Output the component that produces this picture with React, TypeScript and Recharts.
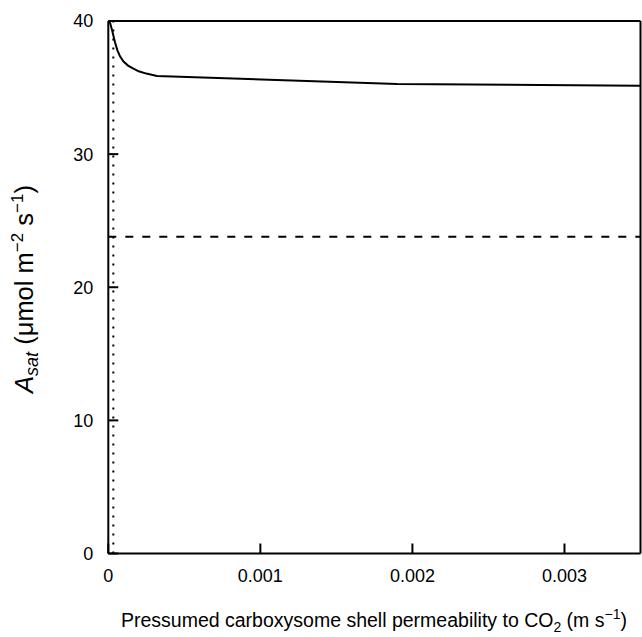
import { LineChart, Line, XAxis, YAxis, ReferenceLine, Label } from "recharts";

// shell permeability to CO2 (m s-1) vs. A_sat (umol m-2 s-1)
const permeability = [
  0, 0.000012, 0.000025, 0.000044, 0.00006, 0.000077, 0.0001, 0.00013, 0.000165, 0.0002, 0.00025,
  0.00032, 0.0019, 0.0035,
];
const assimilation = [
  40, 39.85, 39.3, 38.4, 37.8, 37.35, 36.95, 36.65, 36.42, 36.22, 36.05, 35.87, 35.27, 35.13,
];

const xTicks = [0, 0.001, 0.002, 0.003];
const yTicks = [0, 10, 20, 30, 40];

const dashedLevel = 23.8;
const dottedPermeability = 0.000033;

const data = permeability.map((p, i) => ({ p, a: assimilation[i] }));

const font = '"Liberation Sans", Arial, Helvetica, sans-serif';
const tickStyle = { fill: "#000", fontSize: 18, fontFamily: font };

export default function App() {
  return (
    <div style={{ position: "absolute", left: 0, top: 0, background: "#fff" }}>
      <LineChart
        width={642}
        height={637}
        data={data}
        margin={{ top: 20, right: 0.5, bottom: 53.5, left: 48.3 }}
      >
        <XAxis
          xAxisId="b"
          dataKey="p"
          type="number"
          domain={[0, 0.0035]}
          ticks={xTicks}
          allowDataOverflow
          height={30}
          stroke="#000"
          strokeWidth={2}
          tickSize={-10}
          tickMargin={26}
          tick={tickStyle}
          tickFormatter={(v: number) => (v === 0 ? "0" : v.toFixed(3))}
        >
          <Label
            content={() => (
              <text x={374} y={627} textAnchor="middle" fontFamily={font} fontSize={19.5} fill="#000">
                Pressumed carboxysome shell permeability to CO
                <tspan dy={5} fontSize={14}>2</tspan>
                <tspan dy={-5}> (m s</tspan>
                <tspan dy={-8} fontSize={14}>−1</tspan>
                <tspan dy={8}>)</tspan>
              </text>
            )}
          />
        </XAxis>
        <XAxis
          xAxisId="t"
          dataKey="p"
          type="number"
          orientation="top"
          domain={[0, 0.0035]}
          ticks={xTicks}
          allowDataOverflow
          height={1}
          stroke="#000"
          strokeWidth={2}
          tickSize={-10}
          tick={false}
        />
        <YAxis
          yAxisId="l"
          type="number"
          domain={[0, 40]}
          ticks={yTicks}
          width={60}
          stroke="#000"
          strokeWidth={2}
          tickSize={-10}
          tickMargin={25}
          tick={tickStyle}
        >
          <Label
            content={() => (
              <text
                x={33}
                y={289}
                transform="rotate(-90 33 289)"
                textAnchor="middle"
                fontFamily={font}
                fontSize={25.5}
                fill="#000"
              >
                <tspan fontStyle="italic">A</tspan>
                <tspan fontStyle="italic" fontSize={18} dy={5}>sat</tspan>
                <tspan dy={-5}> (μmol m</tspan>
                <tspan fontSize={17} dy={-10}>−2</tspan>
                <tspan dy={10}> s</tspan>
                <tspan fontSize={17} dy={-10}>−1</tspan>
                <tspan dy={10}>)</tspan>
              </text>
            )}
          />
        </YAxis>
        <YAxis
          yAxisId="r"
          type="number"
          orientation="right"
          domain={[0, 40]}
          ticks={yTicks}
          width={1}
          stroke="#000"
          strokeWidth={2}
          tickSize={-10}
          tick={false}
        />
        <ReferenceLine
          xAxisId="b"
          yAxisId="l"
          y={dashedLevel}
          stroke="#000"
          strokeWidth={2}
          strokeDasharray="8 9"
        />
        <ReferenceLine
          xAxisId="b"
          yAxisId="l"
          x={dottedPermeability}
          stroke="#000"
          strokeWidth={2}
          strokeDasharray="2 7"
        />
        <Line
          xAxisId="b"
          yAxisId="l"
          dataKey="a"
          type="linear"
          stroke="#000"
          strokeWidth={2}
          dot={false}
          isAnimationActive={false}
        />
      </LineChart>
    </div>
  );
}
